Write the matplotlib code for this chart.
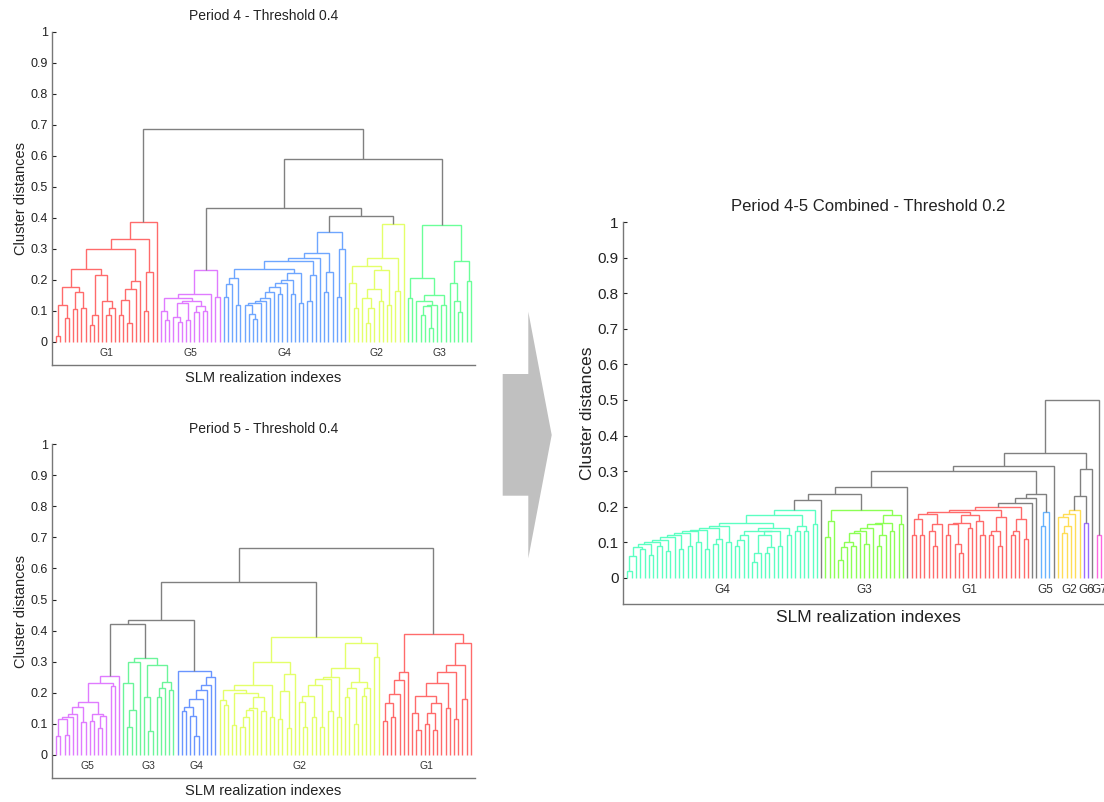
import numpy as np
import matplotlib.pyplot as plt
from matplotlib.patches import Polygon

plt.rcParams['font.family'] = ['Liberation Sans', 'DejaVu Sans']

GRAY = '#808080'

# Each dendrogram is stored as merge heights between neighbouring leaves,
# group by group, plus the heights that join one group to the next.

# ---- Period 4, threshold 0.4
p4_names = ['G1', 'G5', 'G4', 'G2', 'G3']
p4_colors = ['#ff6b6b', '#e07bff', '#6ea6ff', '#e4ff6a', '#6bff99']
p4_G1 = [0.02, 0.12, 0.075, 0.175, 0.105, 0.16, 0.11, 0.235, 0.055, 0.085,
         0.215, 0.13, 0.085, 0.11, 0.30, 0.085, 0.135, 0.06, 0.17, 0.195,
         0.33, 0.10, 0.225, 0.385]
p4_G5 = [0.10, 0.07, 0.14, 0.08, 0.065, 0.125, 0.07, 0.13, 0.095, 0.115,
         0.10, 0.155, 0.232, 0.145]
p4_G4 = [0.145, 0.185, 0.205, 0.12, 0.235, 0.12, 0.09, 0.072, 0.125, 0.13,
         0.14, 0.16, 0.175, 0.155, 0.19, 0.20, 0.155, 0.22, 0.125, 0.26,
         0.13, 0.215, 0.27, 0.285, 0.16, 0.225, 0.355, 0.145, 0.30]
p4_G2 = [0.19, 0.11, 0.245, 0.14, 0.06, 0.11, 0.17, 0.13, 0.23, 0.12,
         0.27, 0.165, 0.38]
p4_G3 = [0.14, 0.205, 0.13, 0.085, 0.115, 0.045, 0.12, 0.15, 0.12, 0.375,
         0.19, 0.13, 0.095, 0.26, 0.195]
p4_links = [0.685, 0.43, 0.405, 0.59]

# ---- Period 5, threshold 0.4
p5_names = ['G5', 'G3', 'G4', 'G2', 'G1']
p5_colors = ['#e07bff', '#6bf59a', '#6a95ff', '#e4ff6a', '#ff6b6b']
p5_G5 = [0.06, 0.115, 0.065, 0.12, 0.13, 0.155, 0.105, 0.17, 0.11, 0.13,
         0.085, 0.125, 0.23, 0.22, 0.255]
p5_G3 = [0.23, 0.09, 0.145, 0.30, 0.31, 0.185, 0.075, 0.29, 0.185, 0.215,
         0.235, 0.21]
p5_G4 = [0.27, 0.14, 0.155, 0.125, 0.06, 0.18, 0.21, 0.225, 0.25]
p5_G2 = [0.175, 0.16, 0.21, 0.095, 0.20, 0.09, 0.12, 0.145, 0.15, 0.185,
         0.14, 0.225, 0.12, 0.30, 0.115, 0.205, 0.085, 0.26,
         0.38,
         0.17, 0.09, 0.19, 0.12, 0.225, 0.09, 0.245, 0.14, 0.25, 0.12,
         0.28, 0.185, 0.215, 0.10, 0.235, 0.19, 0.215, 0.36, 0.315]
p5_G1 = [0.11, 0.165, 0.12, 0.195, 0.24, 0.265, 0.39, 0.135, 0.08, 0.19,
         0.10, 0.135, 0.08, 0.165, 0.23, 0.15, 0.265, 0.115, 0.29, 0.18,
         0.36]
p5_links = [0.42, 0.435, 0.555, 0.665]

# ---- Period 4-5 combined, threshold 0.2 (None = unassigned single leaf)
pc_names = ['G4', None, 'G3', None, 'G1', None, None, 'G5', None, 'G2',
            'G6', None, 'G7']
pc_colors = ['#5cffc2', GRAY, '#8cff55', GRAY, '#ff6b6b', GRAY, GRAY,
             '#66b3ff', GRAY, '#ffdd55', '#9c6bff', GRAY, '#ff66e0']
pc_G4 = [0.02, 0.06, 0.085, 0.08, 0.095, 0.065, 0.10, 0.09, 0.105, 0.075,
         0.115, 0.12, 0.08, 0.125, 0.09, 0.13, 0.10, 0.135, 0.08, 0.14,
         0.095, 0.11, 0.145, 0.10, 0.155, 0.09, 0.105, 0.12, 0.13, 0.045,
         0.07, 0.12, 0.07, 0.085, 0.13, 0.09, 0.14, 0.12, 0.175, 0.13,
         0.145, 0.13, 0.19, 0.15]
pc_G3 = [0.115, 0.16, 0.19, 0.05, 0.085, 0.10, 0.09, 0.125, 0.13, 0.095,
         0.14, 0.15, 0.09, 0.12, 0.155, 0.13, 0.175, 0.15]
pc_G1 = [0.12, 0.165, 0.12, 0.18, 0.13, 0.09, 0.15, 0.185, 0.12, 0.15,
         0.095, 0.07, 0.155, 0.14, 0.175, 0.16, 0.12, 0.19, 0.12, 0.13,
         0.09, 0.17, 0.198, 0.12, 0.13, 0.165, 0.11]
pc_G5 = [0.145, 0.185]
pc_G2 = [0.17, 0.125, 0.145, 0.18, 0.19]
pc_G6 = [0.155]
pc_G7 = [0.12]
pc_groups = [pc_G4, [], pc_G3, [], pc_G1, [], [], pc_G5, [], pc_G2, pc_G6,
             [], pc_G7]
pc_links = [0.218, 0.235, 0.255, 0.30, 0.209, 0.223, 0.2345, 0.315, 0.35,
            0.23, 0.305, 0.50]


def assemble(groups, links):
    heights, gid = [], []
    for i, g in enumerate(groups):
        if i > 0:
            heights.append(links[i - 1])
        heights.extend(g)
        gid.extend([i] * (len(g) + 1))
    return np.array(heights), np.array(gid)


def draw_tree(ax, heights, gid, colors, lw=1.0):
    def node(lo, hi):
        if lo == hi:
            return lo + 1.0, 0.0
        k = lo + int(np.argmax(heights[lo:hi]))
        xl, yl = node(lo, k)
        xr, yr = node(k + 1, hi)
        h = heights[k]
        c = colors[gid[lo]] if gid[lo] == gid[hi] else GRAY
        ax.plot([xl, xl, xr, xr], [yl, h, h, yr], color=c, lw=lw,
                solid_joinstyle='miter', solid_capstyle='butt')
        return (xl + xr) / 2, h
    node(0, len(gid) - 1)


def setup(ax, title, xmax, fs_tick, fs_lab, fs_title):
    ax.set_xlim(0, xmax)
    ax.set_ylim(-0.075, 1)
    ax.set_yticks(np.arange(0, 1.01, 0.1))
    ax.set_yticklabels(['0'] + ['%.1f' % v for v in np.arange(0.1, 0.95, 0.1)] + ['1'])
    ax.set_xticks([])
    ax.tick_params(axis='y', direction='in', length=3, width=0.8,
                   labelsize=fs_tick, pad=3, colors='#222222')
    for s in ['top', 'right']:
        ax.spines[s].set_visible(False)
    for s in ['left', 'bottom']:
        ax.spines[s].set_color('#777777')
        ax.spines[s].set_linewidth(1.0)
    ax.set_title(title, fontsize=fs_title, pad=8, color='#222222')
    ax.set_xlabel('SLM realization indexes', fontsize=fs_lab, labelpad=4,
                  color='#222222')
    ax.set_ylabel('Cluster distances', fontsize=fs_lab, labelpad=2,
                  color='#222222')
    ax.patch.set_alpha(0)


def label_groups(ax, names, gid, fs):
    for i, name in enumerate(names):
        if name is None:
            continue
        xs = np.where(gid == i)[0] + 1.0
        ax.text(xs.mean(), -0.036, name, ha='center', va='center',
                fontsize=fs, color='#333333')


fig = plt.figure(figsize=(11.04, 8.02), dpi=100)
W, H = 1104.0, 802.0

# period 4
ax1 = fig.add_axes([52 / W, 1 - 365 / H, 423 / W, 333.5 / H])
h, g = assemble([p4_G1, p4_G5, p4_G4, p4_G2, p4_G3], p4_links)
draw_tree(ax1, h, g, p4_colors)
setup(ax1, 'Period 4 - Threshold 0.4', len(g) + 1, 9, 10.5, 10)
label_groups(ax1, p4_names, g, 7.5)

# period 5
ax2 = fig.add_axes([52 / W, 1 - 778 / H, 423 / W, 333.7 / H])
h, g = assemble([p5_G5, p5_G3, p5_G4, p5_G2, p5_G1], p5_links)
draw_tree(ax2, h, g, p5_colors)
setup(ax2, 'Period 5 - Threshold 0.4', len(g) + 1, 9, 10.5, 10)
label_groups(ax2, p5_names, g, 7.5)

# combined, wider than the page on the right
ax3 = fig.add_axes([623 / W, 1 - 604.3 / H, 491 / W, 382 / H])
h, g = assemble(pc_groups, pc_links)
draw_tree(ax3, h, g, pc_colors)
setup(ax3, 'Period 4-5 Combined - Threshold 0.2', 114, 11, 12.5, 12)
label_groups(ax3, pc_names, g, 8.5)

# arrow between the panels
arrow = [(502.7, 374), (528.3, 374), (528.3, 311.7), (551.7, 435),
         (528.3, 558.3), (528.3, 495.7), (502.7, 495.7)]
fig.patches.append(Polygon([(x / W, 1 - y / H) for x, y in arrow],
                           closed=True, transform=fig.transFigure,
                           facecolor='#c0c0c0', edgecolor='none'))

fig.savefig('out.png', dpi=100)
